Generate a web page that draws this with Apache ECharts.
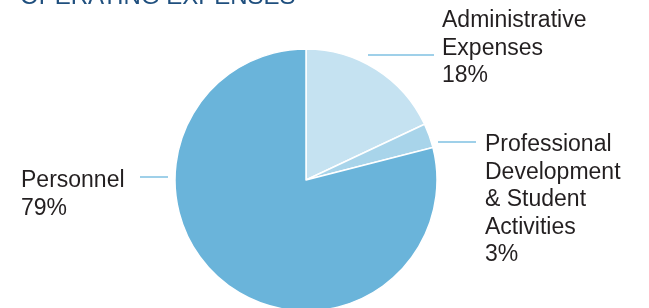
<!DOCTYPE html>
<html>
<head>
<meta charset="utf-8">
<script src="https://cdn.jsdelivr.net/npm/echarts@6/dist/echarts.min.js"></script>
<style>
  html, body { margin: 0; padding: 0; background: #fff; }
  #chart { width: 649px; height: 308px; }
</style>
</head>
<body>
<div id="chart"></div>
<script>
const title = 'OPERATING EXPENSES'
const categories = ['Administrative\nExpenses', 'Professional\nDevelopment\n& Student\nActivities', 'Personnel']
const values = [18, 3, 79]
const colors = ['#c5e2f1', '#a8d4ea', '#6ab4da']

// label anchor per slice: text top-left and leader line ends
const labelPos = [
  { x: 442, y: 7, line: [[368, 55], [400, 55], [434, 55]] },
  { x: 485, y: 131, line: [[438, 142], [456, 142], [476, 142]] },
  { x: 21, y: 167, line: [[168, 177], [154, 177], [140, 177]] }
]

const chart = echarts.init(document.getElementById('chart'))

chart.setOption({
  animation: false,
  title: {
    text: title,
    left: 20,
    top: -15,
    padding: 0,
    textStyle: {
      fontFamily: 'Liberation Sans',
      fontSize: 24,
      fontWeight: 'normal',
      lineHeight: 24,
      color: '#1f4f7e'
    }
  },
  series: [
    {
      type: 'pie',
      center: [306, 180],
      radius: 131,
      startAngle: 90,
      clockwise: true,
      data: categories.map((name, i) => ({
        name,
        value: values[i],
        itemStyle: { color: colors[i] }
      })),
      itemStyle: { borderColor: '#fff', borderWidth: 1.5 },
      label: {
        show: true,
        formatter: (p) => p.name + '\n' + p.value + '%',
        fontFamily: 'Liberation Sans',
        fontSize: 23,
        lineHeight: 27.5,
        color: '#231f20',
        align: 'left'
      },
      labelLine: {
        show: true,
        lineStyle: { color: '#7fc1e2', width: 1.5 }
      },
      labelLayout: (params) => {
        const pos = labelPos[params.dataIndex]
        return {
          x: pos.x,
          y: pos.y,
          align: 'left',
          verticalAlign: 'top',
          labelLinePoints: pos.line
        }
      },
      emphasis: { disabled: true }
    }
  ]
})
</script>
</body>
</html>
